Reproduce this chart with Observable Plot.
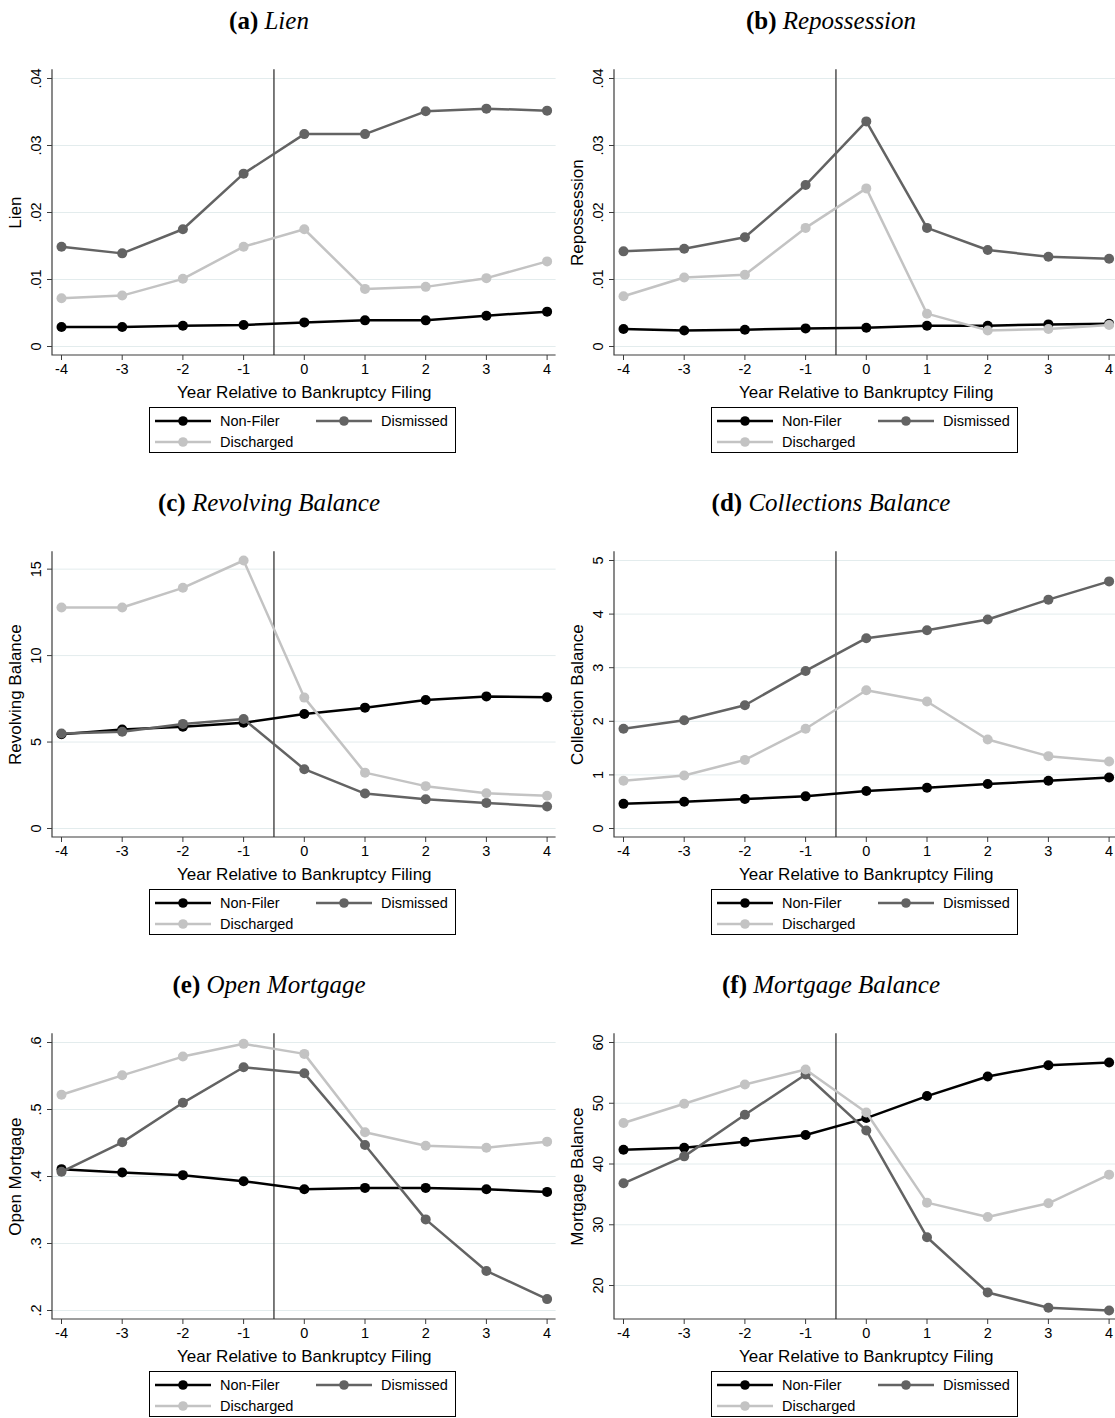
<!DOCTYPE html>
<html>
<head>
<meta charset="utf-8">
<script src="https://cdn.jsdelivr.net/npm/d3@7"></script>
<script src="https://cdn.jsdelivr.net/npm/@observablehq/plot@0.6"></script>
<style>
  html, body { margin: 0; padding: 0; background: #fff; }
  #root { position: relative; width: 1115px; height: 1418px; overflow: hidden; background: #fff;
          font-family: "Liberation Sans", Arial, Helvetica, sans-serif; }
  .panel { position: absolute; width: 562px; height: 482px; }
  .panel svg.plot { position: absolute; left: 0; top: 0; overflow: visible; }
  .title { position: absolute; left: 0; top: 6px; width: 538px; text-align: center;
           font-family: "Liberation Serif", "Times New Roman", serif; font-size: 25px; line-height: 30px; color: #000; }
  .title b { font-weight: bold; }
  .title i { font-style: italic; }
  .legend { position: absolute; left: 149px; top: 407px; width: 307px; height: 46px; box-sizing: border-box;
            border: 1px solid #000; background: #fff; }
  .item { position: absolute; height: 20px; display: flex; align-items: center; font-size: 14.5px; color: #000; white-space: nowrap; }
  .item svg { display: block; margin-right: 9px; }
</style>
</head>
<body>
<div id="root"></div>
<script>
// ---------- data ----------
const years = [-4, -3, -2, -1, 0, 1, 2, 3, 4];
const groups = ["Non-Filer", "Dismissed", "Discharged"];
const filingYear = -0.5;
const xTitle = "Year Relative to Bankruptcy Filing";

const lienNonFiler   = [0.0029, 0.0029, 0.0031, 0.0032, 0.0036, 0.0039, 0.0039, 0.0046, 0.0052];
const lienDismissed  = [0.0149, 0.0139, 0.0175, 0.0258, 0.0317, 0.0317, 0.0351, 0.0355, 0.0352];
const lienDischarged = [0.0072, 0.0076, 0.0101, 0.0149, 0.0175, 0.0086, 0.0089, 0.0102, 0.0127];
const lienTicks = [0, 0.01, 0.02, 0.03, 0.04];

const reposNonFiler   = [0.0026, 0.0024, 0.0025, 0.0027, 0.0028, 0.0031, 0.0031, 0.0033, 0.0034];
const reposDismissed  = [0.0142, 0.0146, 0.0163, 0.0241, 0.0336, 0.0177, 0.0144, 0.0134, 0.0131];
const reposDischarged = [0.0075, 0.0103, 0.0107, 0.0177, 0.0236, 0.0049, 0.0024, 0.0026, 0.0032];
const reposTicks = [0, 0.01, 0.02, 0.03, 0.04];

const revolvNonFiler   = [5.45, 5.72, 5.89, 6.12, 6.62, 6.99, 7.43, 7.64, 7.59];
const revolvDismissed  = [5.49, 5.60, 6.05, 6.33, 3.43, 2.02, 1.69, 1.48, 1.27];
const revolvDischarged = [12.78, 12.78, 13.92, 15.50, 7.57, 3.23, 2.45, 2.04, 1.89];
const revolvTicks = [0, 5, 10, 15];

const collNonFiler   = [0.46, 0.50, 0.55, 0.60, 0.70, 0.76, 0.83, 0.89, 0.95];
const collDismissed  = [1.86, 2.02, 2.30, 2.94, 3.55, 3.70, 3.90, 4.27, 4.61];
const collDischarged = [0.89, 0.99, 1.28, 1.86, 2.58, 2.37, 1.66, 1.35, 1.25];
const collTicks = [0, 1, 2, 3, 4, 5];

const openMortNonFiler   = [0.411, 0.406, 0.402, 0.393, 0.381, 0.383, 0.383, 0.381, 0.377];
const openMortDismissed  = [0.407, 0.451, 0.510, 0.563, 0.554, 0.447, 0.336, 0.259, 0.217];
const openMortDischarged = [0.522, 0.551, 0.579, 0.598, 0.583, 0.466, 0.446, 0.443, 0.452];
const openMortTicks = [0.2, 0.3, 0.4, 0.5, 0.6];

const mortBalNonFiler   = [42.36, 42.68, 43.67, 44.77, 47.56, 51.18, 54.41, 56.27, 56.71];
const mortBalDismissed  = [36.82, 41.26, 48.11, 54.74, 45.53, 27.95, 18.85, 16.33, 15.89];
const mortBalDischarged = [46.74, 49.92, 53.10, 55.56, 48.49, 33.64, 31.29, 33.53, 38.25];
const mortBalTicks = [20, 30, 40, 50, 60];

// ---------- styles ----------
const seriesColors = ["#000000", "#636363", "#c3c3c3"];
const axisColor = "#3c3c3c";
const gridColor = "#e3eced";
const FONT = '"Liberation Sans", Arial, Helvetica, sans-serif';
const stataFmt = d => d === 0 ? "0" : String(d).replace(/^0\./, ".").replace(/^-0\./, "-.");

const panels = [
  {id: "a", name: "Lien", yTitle: "Lien", series: [lienNonFiler, lienDismissed, lienDischarged], ticks: lienTicks},
  {id: "b", name: "Repossession", yTitle: "Repossession", series: [reposNonFiler, reposDismissed, reposDischarged], ticks: reposTicks},
  {id: "c", name: "Revolving Balance", yTitle: "Revolving Balance", series: [revolvNonFiler, revolvDismissed, revolvDischarged], ticks: revolvTicks},
  {id: "d", name: "Collections Balance", yTitle: "Collection Balance", series: [collNonFiler, collDismissed, collDischarged], ticks: collTicks},
  {id: "e", name: "Open Mortgage", yTitle: "Open Mortgage", series: [openMortNonFiler, openMortDismissed, openMortDischarged], ticks: openMortTicks},
  {id: "f", name: "Mortgage Balance", yTitle: "Mortgage Balance", series: [mortBalNonFiler, mortBalDismissed, mortBalDischarged], ticks: mortBalTicks}
];

// L-shaped axis frame (left + bottom) drawn from plot dimensions
const axisFrame = (index, scales, values, dims) => {
  const {width, height, marginLeft, marginRight, marginTop, marginBottom} = dims;
  return d3.create("svg:path")
    .attr("d", `M${marginLeft},${marginTop}V${height - marginBottom}H${width - marginRight}`)
    .attr("fill", "none").attr("stroke", axisColor).attr("stroke-width", 1.2)
    .node();
};

const root = document.getElementById("root");

panels.forEach((p, k) => {
  const col = k % 2, row = Math.floor(k / 2);
  const panel = document.createElement("div");
  panel.className = "panel";
  panel.style.left = (col * 562) + "px";
  panel.style.top = (row * 482) + "px";
  root.appendChild(panel);

  const rows = [];
  groups.forEach((g, gi) => p.series[gi].forEach((v, i) => rows.push({year: years[i], group: g, value: v})));
  const yExtent = d3.extent(rows.map(d => d.value).concat(p.ticks));

  const seriesMarks = [];
  groups.forEach((g, gi) => {
    const data = rows.filter(d => d.group === g);
    seriesMarks.push(Plot.line(data, {x: "year", y: "value", stroke: seriesColors[gi], strokeWidth: 2.5}));
    seriesMarks.push(Plot.dot(data, {x: "year", y: "value", fill: seriesColors[gi], r: 5}));
  });

  const chart = Plot.plot({
    width: 562, height: 400,
    marginTop: 69.3, marginBottom: 45, marginLeft: 52, marginRight: 6.4,
    style: {fontFamily: FONT, fontSize: "14px", color: "#000", background: "transparent", overflow: "visible"},
    x: {domain: d3.extent(years), insetLeft: 9, insetRight: 9, labelArrow: "none"},
    y: {domain: yExtent, insetTop: 8.7, insetBottom: 9, labelArrow: "none"},
    marks: [
      Plot.gridY(p.ticks, {stroke: gridColor, strokeOpacity: 1, strokeWidth: 1}),
      axisFrame,
      Plot.ruleX([filingYear], {stroke: "#353535", strokeWidth: 1.3}),
      Plot.axisX(years, {tickSize: 5, tickPadding: 3, tickFormat: d => String(d), stroke: axisColor, fill: "#000", fontSize: 14.5, label: null}),
      Plot.axisX([], {tickSize: 0, label: xTitle, labelArrow: "none", labelAnchor: "center", labelOffset: 42, fontSize: 17, fill: "#000"}),
      Plot.axisY(p.ticks, {tickSize: 5, tickPadding: 6.5, tickRotate: -90, textAnchor: "middle", lineAnchor: "bottom",
                           tickFormat: stataFmt, stroke: axisColor, fill: "#000", fontSize: 14.5, label: null}),
      Plot.axisY([], {tickSize: 0, label: p.yTitle, labelArrow: "none", labelAnchor: "center", labelOffset: 44, fontSize: 17, fill: "#000"}),
      ...seriesMarks
    ]
  });
  chart.classList.add("plot");
  panel.appendChild(chart);

  const title = document.createElement("div");
  title.className = "title";
  title.innerHTML = `<b>(${p.id})</b> <i>${p.name}</i>`;
  panel.appendChild(title);

  const legend = document.createElement("div");
  legend.className = "legend";
  const pos = [{left: 5, top: 3}, {left: 166, top: 3}, {left: 5, top: 24}];
  groups.forEach((g, gi) => {
    const item = document.createElement("div");
    item.className = "item";
    item.style.left = pos[gi].left + "px";
    item.style.top = pos[gi].top + "px";
    item.innerHTML = `<svg width="56" height="14"><line x1="0" x2="56" y1="7" y2="7" stroke="${seriesColors[gi]}" stroke-width="2.5"/>` +
      `<circle cx="28" cy="7" r="4.8" fill="${seriesColors[gi]}"/></svg><span>${g}</span>`;
    legend.appendChild(item);
  });
  panel.appendChild(legend);
});
</script>
</body>
</html>
